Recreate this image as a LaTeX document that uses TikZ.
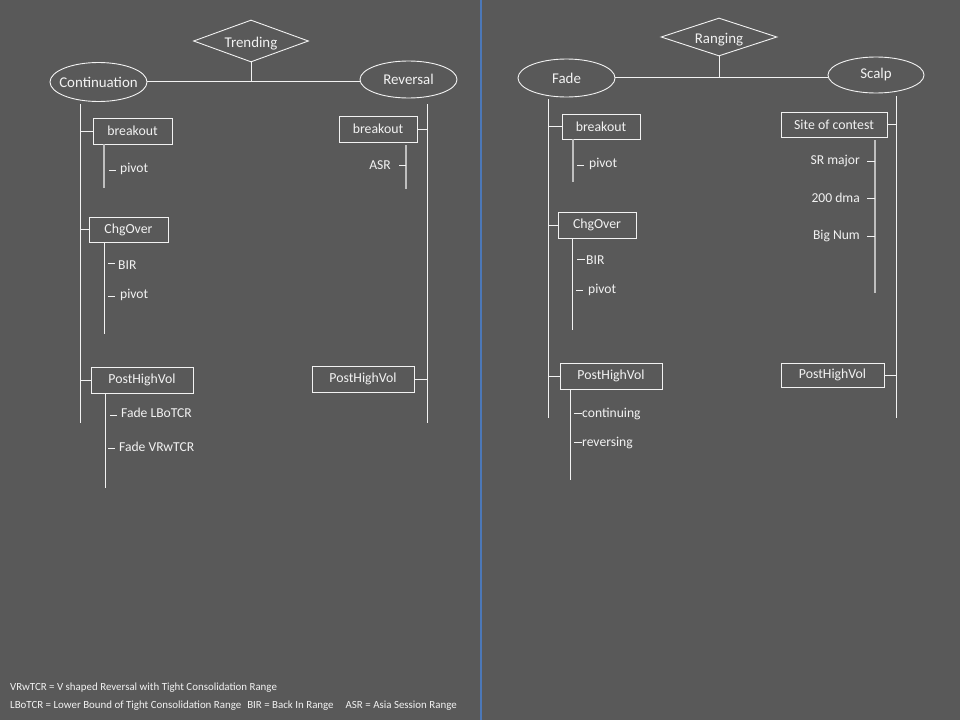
\documentclass[tikz,border=0pt]{standalone}
\usepackage{fontspec}
\setmainfont{Carlito}
\usetikzlibrary{shapes.geometric}
\definecolor{bg}{HTML}{595959}
\definecolor{fg}{HTML}{F2F2F2}
\definecolor{sub}{HTML}{BFBFBF}
\definecolor{divider}{HTML}{4C78B8}
\tikzset{
  ln/.style={draw=fg, line width=0.9pt},
  subln/.style={draw=sub, line width=1.2pt},
  dia/.style={diamond, draw=fg, line width=0.9pt, aspect=2.75, inner sep=0pt, text=fg, font=\fontsize{14.9}{16}\selectfont},
  ell/.style={ellipse, draw=fg, line width=0.9pt, inner xsep=-10pt, inner ysep=-6pt, text=fg, font=\fontsize{14.9}{16}\selectfont},
  catbox/.style={rectangle, draw=fg, line width=0.9pt, inner sep=0pt, text=fg, font=\fontsize{13.8}{15}\selectfont},
  item/.style={text=fg, inner sep=0pt, font=\fontsize{13.6}{15}\selectfont},
  note/.style={text=fg, inner sep=0pt, anchor=west, font=\fontsize{10.9}{12}\selectfont},
}
\newcommand{\dialabel}[1]{\raisebox{-6pt}[0pt][0pt]{#1}}
\begin{document}
\begin{tikzpicture}[x=1pt,y=-1pt]
\fill[bg] (0,0) rectangle (960,720);
\useasboundingbox (0,0) rectangle (960,720);
\draw[divider, line width=1.1pt] (481,0) -- (481,720);

% ===== Left: Trending =====
\node[dia, minimum width=115pt, minimum height=42pt] (trend) at (251,41) {\dialabel{Trending}};
\node[ell, minimum width=97pt, minimum height=39pt] (cont) at (98.5,82) {Continuation};
\node[ell, minimum width=97pt, minimum height=37pt] (rev) at (408.5,79.5) {Reversal};
\coordinate (tj) at (251,81);
\draw[ln] (cont.east |- tj) -- (rev.west |- tj);
\draw[ln] (trend.south) -- (tj);

% Continuation trunk
\coordinate (ct0) at (80,104);
\coordinate (ct1) at (80,423);
\draw[ln] (ct0) -- (ct1);
\node[catbox, minimum width=79pt, minimum height=26pt] (cbo) at (132.5,131) {breakout};
\draw[ln] (cbo.west) -- (cbo.west -| ct0);
\coordinate (cbo1) at (104,188);
\draw[subln] (cbo.south -| cbo1) -- (cbo1);
\node[item, anchor=west] (cbop) at (120,169) {pivot};
\draw[ln] (109,170) -- (116,170);

\node[catbox, minimum width=79pt, minimum height=25pt] (cco) at (128.5,229.5) {ChgOver};
\draw[ln] (cco.west) -- (cco.west -| ct0);
\coordinate (cco1) at (104.5,334);
\draw[ln] (cco.south -| cco1) -- (cco1);
\node[item, anchor=west] (ccob) at (118,265) {BIR};
\draw[ln] (108,263) -- (115,263);
\node[item, anchor=west] (ccop) at (120,295) {pivot};
\draw[ln] (108,296) -- (115,296);

\node[catbox, minimum width=102pt, minimum height=26pt] (cph) at (142,380) {PostHighVol};
\draw[ln] (cph.west) -- (cph.west -| ct0);
\coordinate (cph1) at (105,488);
\draw[ln] (cph.south -| cph1) -- (cph1);
\node[item, anchor=west] (cphf) at (121,413) {Fade LBoTCR};
\draw[ln] (110,415) -- (117,415);
\node[item, anchor=west] (cphv) at (119,447) {Fade VRwTCR};
\draw[ln] (108,448) -- (115,448);

% Reversal trunk
\coordinate (rt0) at (427,104);
\coordinate (rt1) at (427,423);
\draw[ln] (rt0) -- (rt1);
\node[catbox, minimum width=78pt, minimum height=26pt] (rbo) at (378,129) {breakout};
\draw[ln] (rbo.east) -- (rbo.east -| rt0);
\coordinate (rbo1) at (406,189);
\draw[subln] (406,145) -- (rbo1);
\node[item, anchor=east] (rboa) at (391,165) {ASR};
\draw[ln] (399,165) -- (406,165);
\node[catbox, minimum width=102pt, minimum height=26pt] (rph) at (363,379) {PostHighVol};
\draw[ln] (rph.east) -- (rph.east -| rt0);

% ===== Right: Ranging =====
\node[dia, minimum width=116pt, minimum height=38pt] (rang) at (719,37) {\dialabel{Ranging}};
\node[ell, minimum width=97pt, minimum height=38pt] (fade) at (566.5,78) {Fade};
\node[ell, minimum width=96pt, minimum height=36pt] (scalp) at (876,75) {Scalp};
\coordinate (rj) at (719,77);
\draw[ln] (fade.east |- rj) -- (scalp.west |- rj);
\draw[ln] (rang.south) -- (rj);

% Fade trunk
\coordinate (ft0) at (548,99);
\coordinate (ft1) at (548,418);
\draw[ln] (ft0) -- (ft1);
\node[catbox, minimum width=78pt, minimum height=25pt] (fbo) at (601,126.5) {breakout};
\draw[ln] (fbo.west) -- (fbo.west -| ft0);
\coordinate (fbo1) at (573,182);
\draw[subln] (fbo.south -| fbo1) -- (fbo1);
\node[item, anchor=west] (fbop) at (589,164) {pivot};
\draw[ln] (577,165) -- (584,165);

\node[catbox, minimum width=78pt, minimum height=26pt] (fco) at (597,225) {ChgOver};
\draw[ln] (fco.west) -- (fco.west -| ft0);
\coordinate (fco1) at (572,330);
\draw[ln] (fco.south -| fco1) -- (fco1);
\node[item, anchor=west] (fcob) at (586,260) {BIR};
\draw[ln] (577,259) -- (585,259);
\node[item, anchor=west] (fcop) at (588,290) {pivot};
\draw[ln] (576,290) -- (583,290);

\node[catbox, minimum width=102pt, minimum height=26pt] (fph) at (611,376) {PostHighVol};
\draw[ln] (fph.west) -- (fph.west -| ft0);
\coordinate (fph1) at (570.5,480);
\draw[ln] (fph.south -| fph1) -- (fph1);
\node[item, anchor=west] (fphc) at (582,414) {continuing};
\draw[ln] (574,413) -- (582,413);
\node[item, anchor=west] (fphr) at (582,443) {reversing};
\draw[ln] (574,442) -- (582,442);

% Scalp trunk
\coordinate (st0) at (896,96);
\coordinate (st1) at (896,418);
\draw[ln] (st0) -- (st1);
\node[catbox, minimum width=106pt, minimum height=25pt] (ssc) at (834,124.5) {Site of contest};
\draw[ln] (ssc.east) -- (ssc.east -| st0);
\coordinate (ssc1) at (875,293);
\draw[subln] (875,140) -- (ssc1);
\node[item, anchor=east] (ssr) at (860,161) {SR major};
\draw[ln] (867,161) -- (875,161);
\node[item, anchor=east] (sdm) at (860,198) {200 dma};
\draw[ln] (867,198) -- (875,198);
\node[item, anchor=east] (sbn) at (860,236) {Big Num};
\draw[ln] (867,236) -- (875,236);
\node[catbox, minimum width=103pt, minimum height=24pt] (sph) at (832.5,375) {PostHighVol};
\draw[ln] (sph.east) -- (sph.east -| st0);

% Footer notes
\node[note] (n1) at (10,688) {VRwTCR = V shaped Reversal with Tight Consolidation Range};
\node[note] (n2) at (10,706) {LBoTCR = Lower Bound of Tight Consolidation Range\hspace{6pt}BIR = Back In Range\hspace{12pt}ASR = Asia Session Range};
\end{tikzpicture}
\end{document}
